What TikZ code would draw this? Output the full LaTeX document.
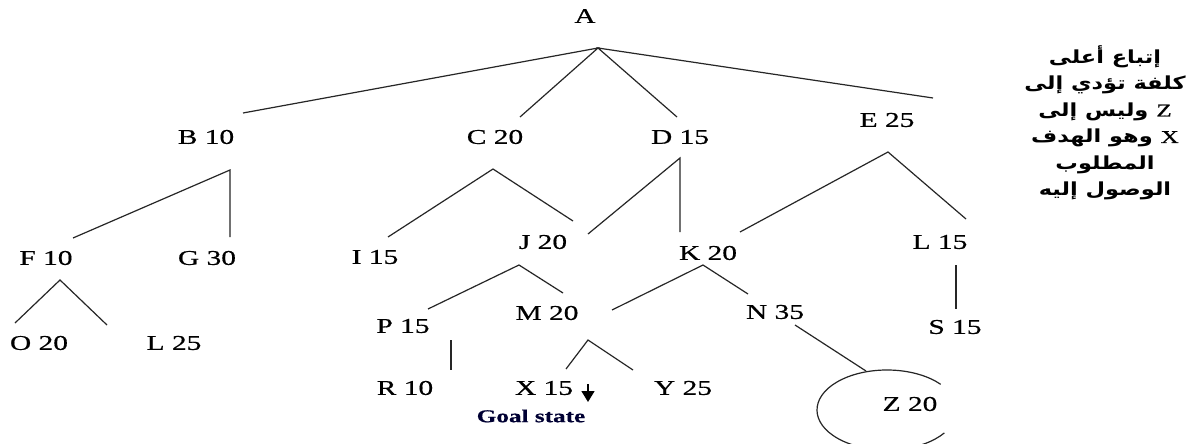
\documentclass[tikz,border=0pt]{standalone}
\usepackage{fontspec}
\setmainfont{Liberation Serif}[FakeStretch=1.4,FakeBold=0.6]
\newfontfamily\arabicfont[Script=Arabic,FakeStretch=1.25]{DejaVu Sans}
\TeXXeTstate=1
\usetikzlibrary{arrows.meta}
\tikzset{
  lbl/.style={inner sep=0pt, anchor=center, font=\fontsize{21}{25}\selectfont},
  goallbl/.style={inner sep=0pt, anchor=center, text=black!80!blue, font=\bfseries\fontsize{18}{21}\selectfont},
  edge/.style={draw=black!85, line width=1.2pt},
  note/.style={inner sep=0pt, align=center, font=\arabicfont\bfseries\fontsize{18}{26.5}\selectfont}
}
\begin{document}
\begin{tikzpicture}[x=1pt,y=-1pt]
\useasboundingbox (0,0) rectangle (1195,444);
\clip (0,0) rectangle (1195,444);
\fill[white] (0,0) rectangle (1195,444);
% labels
\node[lbl] (A) at (585,16) {A};
\node[lbl] (B) at (206,137) {B 10};
\node[lbl] (C) at (495,137) {C 20};
\node[lbl] (D) at (680,137) {D 15};
\node[lbl] (E) at (887,120) {E 25};
\node[lbl] (F) at (46,258) {F 10};
\node[lbl] (G) at (207,258) {G 30};
\node[lbl] (I) at (375,257) {I 15};
\node[lbl] (J) at (543,242) {J 20};
\node[lbl] (K) at (708,253) {K 20};
\node[lbl] (L1) at (940,242) {L 15};
\node[lbl] (O) at (39,343) {O 20};
\node[lbl] (L2) at (174,343) {L 25};
\node[lbl] (P) at (403,326) {P 15};
\node[lbl] (M) at (547,313) {M 20};
\node[lbl] (N) at (775,312) {N 35};
\node[lbl] (S) at (955,327) {S 15};
\node[lbl] (R) at (405,388) {R 10};
\node[lbl] (X) at (544,388) {X 15};
\node[lbl] (Y) at (683,388) {Y 25};
\node[lbl] (Z) at (910,404) {Z 20};
\node[goallbl] (goal) at (531,416) {Goal state};
\node[note] (txt) at (1105,123) {%
\beginR إتباع أعلى\endR\\
\beginR كلفة تؤدي إلى\endR\\
\beginR {\rmfamily\mdseries Z} وليس إلى\endR\\
\beginR {\rmfamily\mdseries X} وهو الهدف\endR\\
\beginR المطلوب\endR\\
\beginR الوصول إليه\endR};
% apex and end coordinates
\coordinate (aA) at (598,48);
\coordinate (eAB) at (243,113);
\coordinate (eAC) at (520,117);
\coordinate (eAD) at (677,117);
\coordinate (eAE) at (933,98);
\coordinate (aB) at (230,170);
\coordinate (eBF) at (73,238);
\coordinate (eBG) at (230,237);
\coordinate (aC) at (493,169);
\coordinate (eCI) at (388,237);
\coordinate (eCJ) at (573,221);
\coordinate (aD) at (680,158);
\coordinate (eDJ) at (588,234);
\coordinate (eDK) at (680,232);
\coordinate (aE) at (888,152);
\coordinate (eEK) at (740,232);
\coordinate (eEL) at (966,219);
\coordinate (aF) at (60,280);
\coordinate (eFO) at (15,323);
\coordinate (eFL) at (107,325);
\coordinate (aJ) at (519,265);
\coordinate (eJP) at (428,309);
\coordinate (eJM) at (563,293);
\coordinate (aK) at (703,265);
\coordinate (eKM) at (612,310);
\coordinate (eKN) at (748,294);
\coordinate (aM) at (588,340);
\coordinate (eMX) at (566,369);
\coordinate (eMY) at (633,370);
\coordinate (sPR) at (451,340);
\coordinate (ePR) at (451,370);
\coordinate (sLS) at (956,265);
\coordinate (eLS) at (956,309);
\coordinate (sNZ) at (795,325);
\coordinate (eNZ) at (866,371);
\coordinate (sArr) at (588,384);
\coordinate (eArr) at (588,402);
\coordinate (zc) at (887,410);
% connectors
\draw[edge] (eAB) -- (aA) -- (eAC);
\draw[edge] (eAD) -- (aA) -- (eAE);
\draw[edge] (eBF) -- (aB) -- (eBG);
\draw[edge] (eCI) -- (aC) -- (eCJ);
\draw[edge] (eDJ) -- (aD) -- (eDK);
\draw[edge] (eEK) -- (aE) -- (eEL);
\draw[edge] (eFO) -- (aF) -- (eFL);
\draw[edge] (eJP) -- (aJ) -- (eJM);
\draw[edge] (eKM) -- (aK) -- (eKN);
\draw[edge] (eMX) -- (aM) -- (eMY);
\draw[edge] (sPR) -- (ePR);
\draw[edge] (sLS) -- (eLS);
\draw[edge] (sNZ) -- (eNZ);
\draw[black, line width=1.4pt, -{Triangle[length=11pt,width=13pt]}] (sArr) -- (eArr);
\draw[edge] (zc) ++(40:70pt and 40pt) arc[start angle=40, end angle=325, x radius=70pt, y radius=40pt];
\end{tikzpicture}
\end{document}
